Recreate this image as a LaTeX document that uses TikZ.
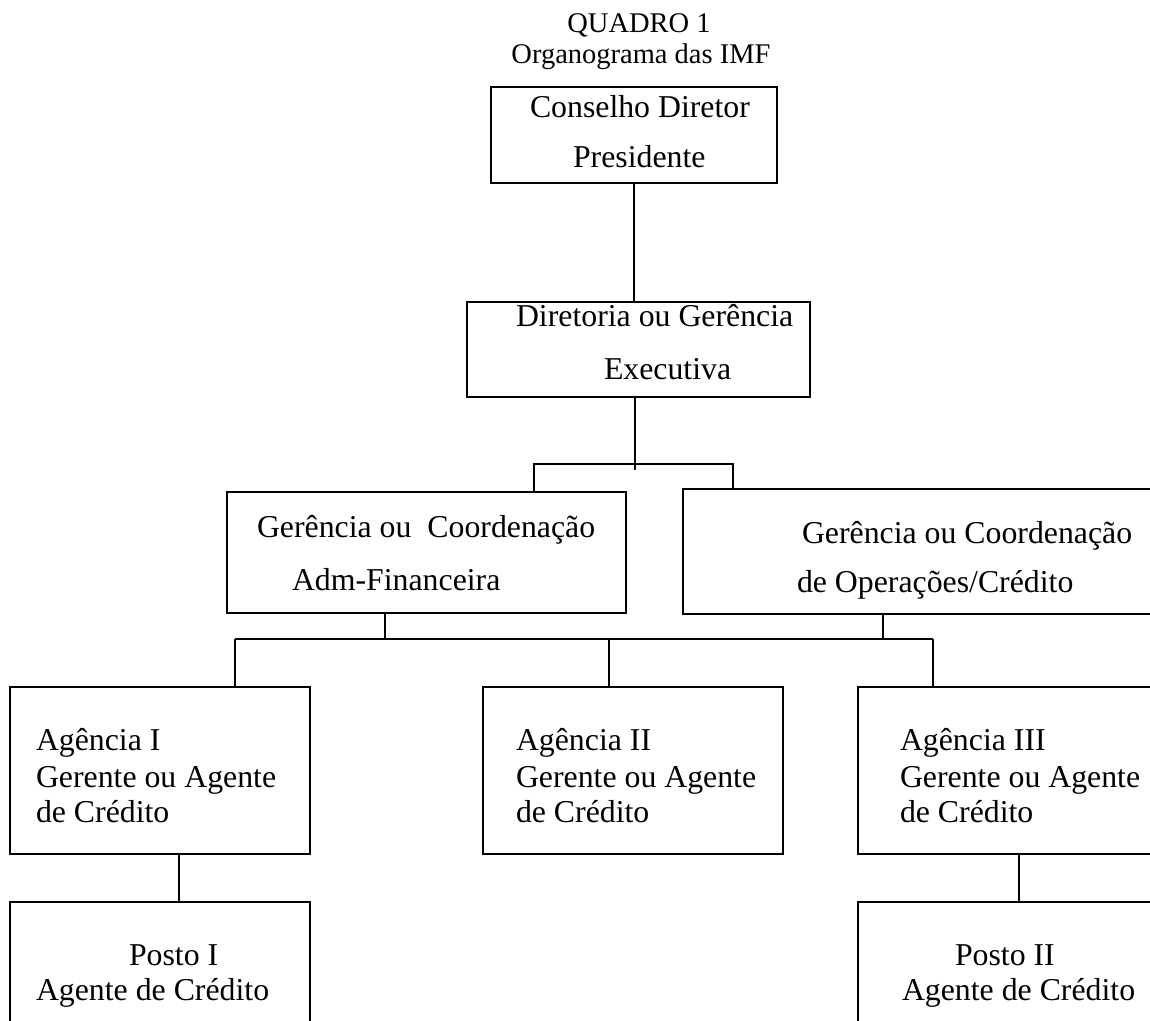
\documentclass[tikz,border=0pt]{standalone}
\usepackage{fontspec}
\setmainfont{Liberation Serif}
\begin{document}
\begin{tikzpicture}[x=1pt,y=-1pt,
  box/.style={draw,line width=1.5pt,inner sep=0pt,outer sep=0pt,anchor=north west},
  txt/.style={inner sep=0pt,outer sep=0pt,anchor=base west,font=\fontsize{31.8}{36}\selectfont},
  ttl/.style={inner sep=0pt,outer sep=0pt,anchor=base,font=\fontsize{28.5}{32}\selectfont},
  link/.style={line width=1.5pt}]
\useasboundingbox (0,0) rectangle (1150,1020);
\clip (0,0) rectangle (1150,1020);

% heading
\node[ttl] (t1) at (639,32) {QUADRO 1};
\node[ttl] (t2) at (641,63) {Organograma das IMF};

% boxes
\node[box,minimum width=286pt,minimum height=96pt] (A) at (491,87) {};
\node[box,minimum width=343pt,minimum height=95pt] (B) at (467,302) {};
\node[box,minimum width=399pt,minimum height=121pt] (C) at (227,492) {};
\node[box,minimum width=490pt,minimum height=125pt] (D) at (683,489) {};
\node[box,minimum width=300pt,minimum height=167pt] (G1) at (10,687) {};
\node[box,minimum width=300pt,minimum height=167pt] (G2) at (483,687) {};
\node[box,minimum width=330pt,minimum height=167pt] (G3) at (858,687) {};
\node[box,minimum width=300pt,minimum height=140pt] (P1) at (10,902) {};
\node[box,minimum width=330pt,minimum height=140pt] (P2) at (858,902) {};

% labels
\node[txt] (a1) at (530,117) {Conselho Diretor};
\node[txt] (a2) at (573,167) {Presidente};
\node[txt] (b1) at (516,326) {Diretoria ou Gerência};
\node[txt] (b2) at (604,379) {Executiva};
\node[txt] (c1) at (257,537) {Gerência ou\ \ Coordenação};
\node[txt] (c2) at (292,590) {Adm-Financeira};
\node[txt] (d1) at (802,543) {Gerência ou Coordenação};
\node[txt] (d2) at (797,592) {de Operações/Crédito};
\node[txt] (g11) at (36,750) {Agência I};
\node[txt] (g12) at (36,787) {Gerente ou Agente};
\node[txt] (g13) at (36,822) {de Crédito};
\node[txt] (g21) at (516,750) {Agência II};
\node[txt] (g22) at (516,787) {Gerente ou Agente};
\node[txt] (g23) at (516,822) {de Crédito};
\node[txt] (g31) at (900,750) {Agência III};
\node[txt] (g32) at (900,787) {Gerente ou Agente};
\node[txt] (g33) at (900,822) {de Crédito};
\node[txt] (p11) at (129,965) {Posto I};
\node[txt] (p12) at (36,1000) {Agente de Crédito};
\node[txt] (p21) at (955,965) {Posto II};
\node[txt] (p22) at (902,1000) {Agente de Crédito};

% bus points
\coordinate (ab) at (634,0);
\coordinate (bb) at (635,470);
\coordinate (bl) at (534,464);
\coordinate (br) at (733,464);
\coordinate (cb) at (385,639);
\coordinate (db) at (883,639);
\coordinate (l1) at (235,639);
\coordinate (l2) at (609,639);
\coordinate (l3) at (933,639);
\coordinate (pa) at (179,0);
\coordinate (pb) at (1019,0);

% connectors
\draw[link] (A.south -| ab) -- (B.north -| ab);
\draw[link] (B.south -| bb) -- (bb);
\draw[link] (C.north -| bl) -- (bl) -- (br) -- (D.north -| br);
\draw[link] (C.south -| cb) -- (cb);
\draw[link] (D.south -| db) -- (db);
\draw[link] (l1) -- (l3);
\draw[link] (l1) -- (G1.north -| l1);
\draw[link] (l2) -- (G2.north -| l2);
\draw[link] (l3) -- (G3.north -| l3);
\draw[link] (G1.south -| pa) -- (P1.north -| pa);
\draw[link] (G3.south -| pb) -- (P2.north -| pb);
\end{tikzpicture}
\end{document}
